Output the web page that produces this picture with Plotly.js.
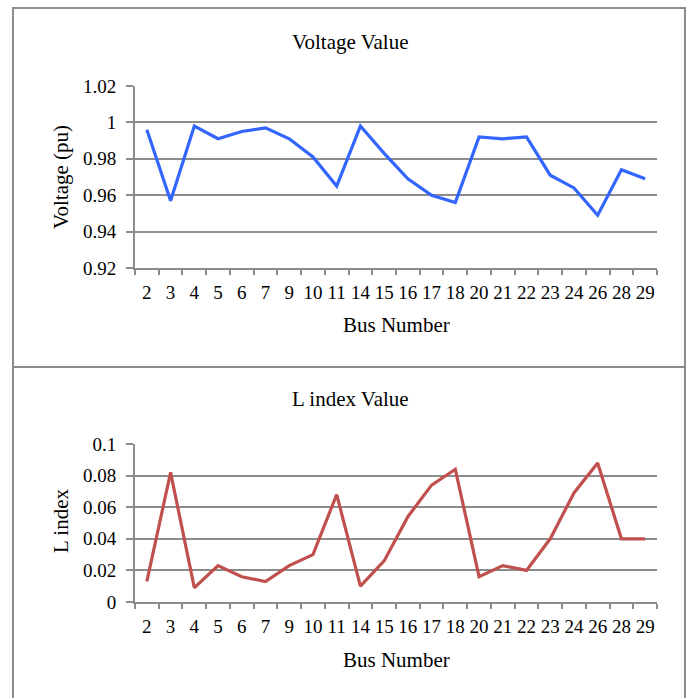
<!DOCTYPE html>
<html>
<head>
<meta charset="utf-8">
<script src="https://cdn.plot.ly/plotly-3.0.1.min.js"></script>
<style>html,body{margin:0;padding:0;background:#fff;}#chart{width:691px;height:698px;}</style>
</head>
<body>
<div id="chart"></div>
<script>
const busNumbers = ['2','3','4','5','6','7','9','10','11','14','15','16','17','18','20','21','22','23','24','26','28','29'];
const voltageValues = [0.996, 0.957, 0.998, 0.991, 0.995, 0.997, 0.991, 0.981, 0.965, 0.998, 0.983, 0.969, 0.960, 0.956, 0.992, 0.991, 0.992, 0.971, 0.964, 0.949, 0.974, 0.969];
const lIndexValues = [0.013, 0.082, 0.009, 0.023, 0.016, 0.013, 0.023, 0.030, 0.068, 0.010, 0.026, 0.054, 0.074, 0.084, 0.016, 0.023, 0.020, 0.040, 0.069, 0.088, 0.040, 0.040];
const voltageTicks = [0.92, 0.94, 0.96, 0.98, 1, 1.02];
const voltageTickText = ['0.92', '0.94', '0.96', '0.98', '1', '1.02'];
const lTicks = [0, 0.02, 0.04, 0.06, 0.08, 0.1];
const lTickText = ['0', '0.02', '0.04', '0.06', '0.08', '0.1'];

const W = 691, H = 698;
const px = v => v / W;
const py = v => 1 - v / H;
const FONT = 'Liberation Serif, Times New Roman, serif';
const GRID = '#8c8c8c';

const traces = [
  {x: busNumbers, y: voltageValues, type: 'scatter', mode: 'lines', line: {color: '#3366ff', width: 3.2}, xaxis: 'x', yaxis: 'y', hoverinfo: 'x+y'},
  {x: busNumbers, y: lIndexValues, type: 'scatter', mode: 'lines', line: {color: '#c0504d', width: 3.2}, xaxis: 'x2', yaxis: 'y2', hoverinfo: 'x+y'}
];

const xCommon = {
  type: 'category', tickson: 'boundaries', ticks: 'outside', ticklen: 5, tickwidth: 2, tickcolor: GRID,
  range: [-0.5, busNumbers.length - 0.5], tickangle: 0,
  showline: true, linecolor: GRID, linewidth: 2, showgrid: false, zeroline: false,
  tickfont: {family: FONT, size: 19, color: '#000'}, ticklabelstandoff: 6
};
const yCommon = {
  ticks: 'outside', ticklen: 7, tickwidth: 2, tickcolor: GRID,
  showline: true, linecolor: GRID, linewidth: 2, showgrid: true, gridcolor: GRID, gridwidth: 2, zeroline: false,
  tickfont: {family: FONT, size: 19, color: '#000'}, ticklabelstandoff: 6
};

function label(text, x, y, angle) {
  return {text: text, xref: 'paper', yref: 'paper', x: px(x), y: py(y), xanchor: 'center', yanchor: 'middle',
    showarrow: false, textangle: angle || 0, font: {family: FONT, size: 21, color: '#000'}};
}

const layout = {
  width: W, height: H, margin: {l: 0, r: 0, t: 0, b: 0}, showlegend: false,
  paper_bgcolor: '#fff', plot_bgcolor: '#fff',
  xaxis: Object.assign({}, xCommon, {domain: [px(135), px(657)], anchor: 'y'}),
  yaxis: Object.assign({}, yCommon, {domain: [py(268), py(86)], range: [0.92, 1.02], tickvals: voltageTicks, ticktext: voltageTickText, anchor: 'x'}),
  xaxis2: Object.assign({}, xCommon, {domain: [px(135), px(657)], anchor: 'y2'}),
  yaxis2: Object.assign({}, yCommon, {domain: [py(602), py(444)], range: [0, 0.1], tickvals: lTicks, ticktext: lTickText, anchor: 'x2'}),
  shapes: [
    {type: 'rect', xref: 'paper', yref: 'paper', x0: px(13), x1: px(685), y0: py(720), y1: py(8), line: {color: GRID, width: 2}},
    {type: 'line', xref: 'paper', yref: 'paper', x0: px(13), x1: px(685), y0: py(367), y1: py(367), line: {color: GRID, width: 2}}
  ],
  annotations: [
    label('Voltage Value', 350, 42),
    label('Bus Number', 396, 325),
    label('Voltage (pu)', 61, 177, -90),
    label('L index Value', 350, 399),
    label('Bus Number', 396, 660),
    label('L index', 61, 521, -90)
  ]
};

Plotly.newPlot('chart', traces, layout, {displayModeBar: false, staticPlot: true});
</script>
</body>
</html>
